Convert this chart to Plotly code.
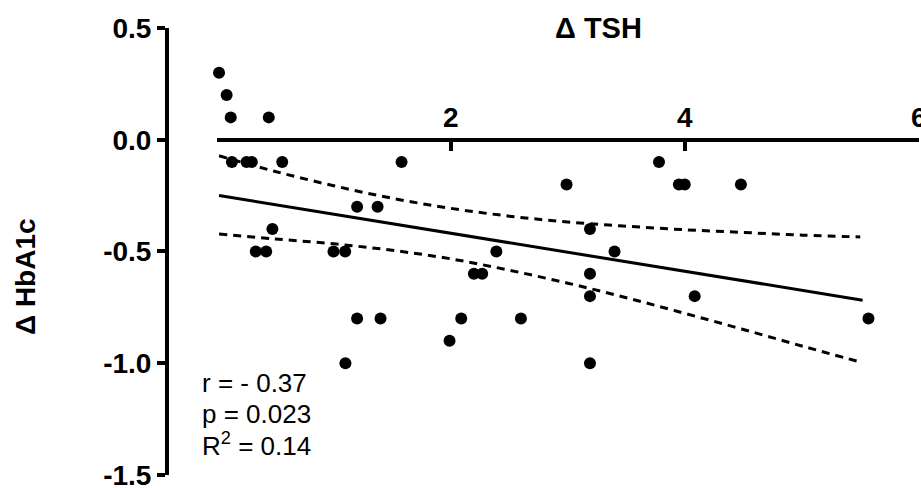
import plotly.graph_objects as go

# Scatter data
tsh_change = [0.02, 0.085, 0.12, 0.445, 0.13, 0.255, 0.30, 0.56, 1.58, 1.20, 1.375,
              0.476, 0.334, 0.423, 0.998, 1.098, 2.39, 3.40, 2.198, 2.269, 3.19,
              3.19, 3.19, 1.20, 1.40, 2.09, 2.60, 1.99, 1.10, 3.19, 3.78, 2.99,
              3.95, 4.00, 4.48, 4.085, 5.57]
hba1c_change = [0.3, 0.2, 0.1, 0.1, -0.1, -0.1, -0.1, -0.1, -0.1, -0.3, -0.3,
                -0.4, -0.5, -0.5, -0.5, -0.5, -0.5, -0.5, -0.6, -0.6, -0.6,
                -0.4, -0.7, -0.8, -0.8, -0.8, -0.8, -0.9, -1.0, -1.0, -0.1, -0.2,
                -0.2, -0.2, -0.2, -0.7, -0.8]

# Regression line and 95% confidence band
fit_x = [0.02, 5.52]
fit_y = [-0.25, -0.718]
band_x = [0.02, 0.5, 1.0, 1.5, 2.0, 2.5, 3.0, 3.5, 4.0, 4.5, 5.0, 5.5]
band_upper = [-0.072, -0.142, -0.206, -0.262, -0.307, -0.342, -0.368, -0.387,
              -0.403, -0.415, -0.427, -0.435]
band_lower = [-0.422, -0.444, -0.466, -0.495, -0.533, -0.584, -0.642, -0.707,
              -0.777, -0.849, -0.923, -0.995]

x_ticks = [2, 4, 6]
y_ticks = [0.5, 0.0, -0.5, -1.0, -1.5]
y_tick_text = ["0.5", "0.0", "-0.5", "-1.0", "-1.5"]

FONT = "Liberation Sans, Arial, sans-serif"

fig = go.Figure()
fig.add_trace(go.Scatter(x=band_x, y=band_upper, mode="lines",
                         line=dict(color="black", width=3, dash="8px,6px", shape="spline"),
                         hoverinfo="skip", cliponaxis=False))
fig.add_trace(go.Scatter(x=band_x, y=band_lower, mode="lines",
                         line=dict(color="black", width=3, dash="8px,6px", shape="spline"),
                         hoverinfo="skip", cliponaxis=False))
fig.add_trace(go.Scatter(x=fit_x, y=fit_y, mode="lines",
                         line=dict(color="black", width=3), cliponaxis=False))
fig.add_trace(go.Scatter(x=tsh_change, y=hba1c_change, mode="markers",
                         marker=dict(color="black", size=12, line=dict(width=0)),
                         cliponaxis=False))

L, R, T, B = 167, 2, 28, 13
W, H = 921, 488
pw = W - L - R
ph = H - T - B
x0_frac = (216.7 - L) / pw

fig.update_layout(
    width=W, height=H,
    margin=dict(l=L, r=R, t=T, b=B, autoexpand=False),
    paper_bgcolor="white", plot_bgcolor="white",
    showlegend=False,
    font=dict(family=FONT, color="black"),
    xaxis=dict(
        domain=[x0_frac, 1], range=[0, 6.002], anchor="free", position=0.75,
        side="top", showline=True, linecolor="black", linewidth=4,
        ticks="inside", ticklen=9, tickwidth=4, tickcolor="black",
        tickvals=x_ticks, ticktext=[str(v) for v in x_ticks],
        tickfont=dict(family=FONT, size=28, color="black", weight="bold"),
        ticklabeloverflow="allow",
        showgrid=False, zeroline=False, automargin=False,
    ),
    yaxis=dict(
        range=[-1.5005, 0.5], anchor="free", position=0,
        showline=True, linecolor="black", linewidth=4,
        ticks="outside", ticklen=8, tickwidth=4, tickcolor="black",
        tickvals=y_ticks, ticktext=y_tick_text,
        tickfont=dict(family=FONT, size=28, color="black", weight="bold"),
        ticklabeloverflow="allow",
        showgrid=False, zeroline=False, automargin=False,
    ),
)

fig.add_annotation(text="Δ TSH", xref="paper", yref="paper",
                   x=(598 - L) / pw, y=(H - B - 28) / ph, xanchor="center", yanchor="middle",
                   showarrow=False,
                   font=dict(family=FONT, size=29, color="black", weight="bold"))
fig.add_annotation(text="Δ HbA1c", xref="paper", yref="paper",
                   x=(25 - L) / pw, y=(H - B - 277) / ph, xanchor="center", yanchor="middle",
                   textangle=-90, showarrow=False,
                   font=dict(family=FONT, size=28, color="black", weight="bold"))

stats = ["r = - 0.37", "p = 0.023", "R<sup>2</sup> = 0.14"]
stat_y = [383, 414, 444]
for s, py in zip(stats, stat_y):
    fig.add_annotation(text=s, xref="paper", yref="paper",
                       x=(200 - L) / pw, y=(H - B - py) / ph,
                       xanchor="left", yanchor="middle", showarrow=False,
                       font=dict(family=FONT, size=26, color="black"))

fig.write_html("out.html", config={"displayModeBar": False},
               post_script="document.body.style.margin='0px';document.body.style.overflow='hidden';")
